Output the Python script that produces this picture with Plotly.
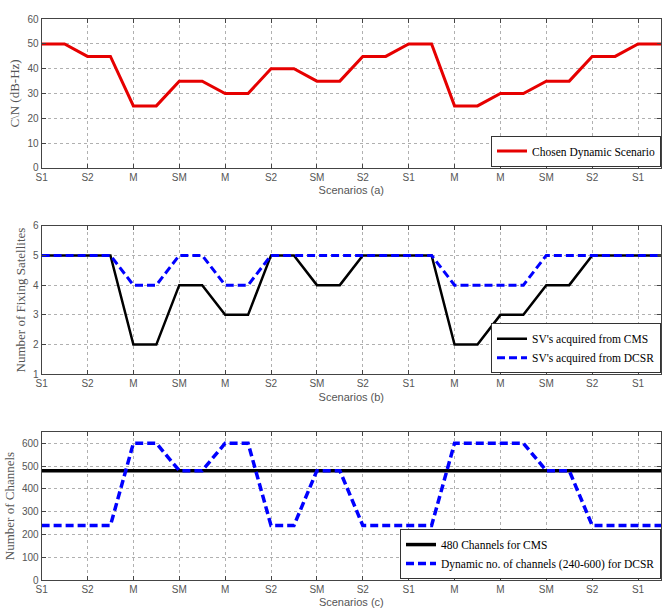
import plotly.graph_objects as go

# ---------------- data ----------------
scenarios = ["S1", "S2", "M", "SM", "M", "S2", "SM", "S2", "S1", "M", "M", "SM", "S2", "S1"]
cn_dbhz = [50, 45, 25, 35, 30, 40, 35, 45, 50, 25, 30, 35, 45, 50]
sv_cms = [5, 5, 2, 4, 3, 5, 4, 5, 5, 2, 3, 4, 5, 5]
sv_dcsr = [5, 5, 4, 5, 4, 5, 5, 5, 5, 4, 4, 5, 5, 5]
ch_cms = [480] * len(scenarios)
ch_dcsr = [240, 240, 600, 480, 600, 240, 480, 240, 240, 600, 600, 480, 240, 240]

# each scenario value is held for half a scenario step
def step_x(n):
    xs = []
    for i in range(n):
        xs += [i, i + 0.5]
    return xs

def step_y(vals):
    ys = []
    for v in vals:
        ys += [v, v]
    return ys

X = step_x(len(scenarios))

W, H = 662, 615
left = 36 / W
dom_top = [1 - 165 / H, 1 - 13.5 / H]
dom_mid = [1 - 375.7 / H, 1 - 224 / H]
dom_bot = [1 - 585.7 / H, 1 - 434.3 / H]

serif = "Liberation Serif"
sans = "Liberation Sans"

fig = go.Figure()

fig.add_trace(go.Scatter(x=X, y=step_y(cn_dbhz), mode="lines",
                         line=dict(color="#e60000", width=3),
                         name="Chosen Dynamic Scenario", xaxis="x", yaxis="y",
                         legend="legend"))
fig.add_trace(go.Scatter(x=X, y=step_y(sv_cms), mode="lines",
                         line=dict(color="black", width=2.5),
                         name="SV's acquired from CMS", xaxis="x2", yaxis="y2",
                         legend="legend2"))
fig.add_trace(go.Scatter(x=X, y=step_y(sv_dcsr), mode="lines",
                         line=dict(color="#0000ff", width=3, dash="8px,4px"),
                         name="SV's acquired from DCSR", xaxis="x2", yaxis="y2",
                         legend="legend2"))
fig.add_trace(go.Scatter(x=X, y=step_y(ch_cms), mode="lines",
                         line=dict(color="black", width=3.5),
                         name="480 Channels for CMS", xaxis="x3", yaxis="y3",
                         legend="legend3"))
fig.add_trace(go.Scatter(x=X, y=step_y(ch_dcsr), mode="lines",
                         line=dict(color="#0000ff", width=3.5, dash="8px,4px"),
                         name="Dynamic no. of channels (240-600) for DCSR",
                         xaxis="x3", yaxis="y3", legend="legend3"))

tickfont = dict(family=sans, size=10, color="#555555")

def xax(dom_anchor, title):
    return dict(domain=[left, 1], range=[0, 13.5], anchor=dom_anchor,
                tickvals=list(range(len(scenarios))), ticktext=scenarios,
                tickfont=tickfont, ticks="inside", ticklen=4, tickcolor="#444",
                showline=True, linecolor="#444", linewidth=1, mirror="ticks",
                showgrid=True, gridcolor="#b0b0b0", griddash="dot", gridwidth=1,
                zeroline=False,
                title=dict(text=title, font=dict(family=sans, size=11, color="#555"),
                           standoff=4))

def yax(dom, anchor, rng, vals, title):
    return dict(domain=dom, range=rng, anchor=anchor, tickvals=vals,
                tickfont=tickfont, ticks="inside", ticklen=4, tickcolor="#444",
                showline=True, linecolor="#444", linewidth=1, mirror="ticks",
                showgrid=True, gridcolor="#b0b0b0", griddash="dot", gridwidth=1,
                zeroline=False,
                title=dict(text=title, font=dict(family=serif, size=13, color="#555"),
                           standoff=4))

legend_style = dict(xanchor="right", yanchor="bottom", x=1,
                    bgcolor="white", bordercolor="#333", borderwidth=1,
                    font=dict(family=serif, size=11.5, color="black"),
                    itemwidth=30, tracegroupgap=0)

fig.update_layout(
    width=W, height=H,
    margin=dict(l=0, r=0, t=0, b=0),
    paper_bgcolor="white", plot_bgcolor="white",
    xaxis=xax("y", "Scenarios (a)"),
    xaxis2=xax("y2", "Scenarios (b)"),
    xaxis3=xax("y3", "Scenarios (c)"),
    yaxis=yax(dom_top, "x", [0, 60], [0, 10, 20, 30, 40, 50, 60], "C\\N (dB-Hz)"),
    yaxis2=yax(dom_mid, "x2", [1, 6], [1, 2, 3, 4, 5, 6], "Number of Fixing Satellites"),
    yaxis3=yax(dom_bot, "x3", [0, 650], [0, 100, 200, 300, 400, 500, 600], "Number of Channels"),
    legend=dict(legend_style, y=dom_top[0] + 0.002),
    legend2=dict(legend_style, y=dom_mid[0] + 0.002),
    legend3=dict(legend_style, y=dom_bot[0] + 0.002),
    showlegend=True,
)

fig.write_html("out.html",
               config={"displayModeBar": False},
               post_script="document.body.style.margin='0';document.body.style.overflow='hidden';")
